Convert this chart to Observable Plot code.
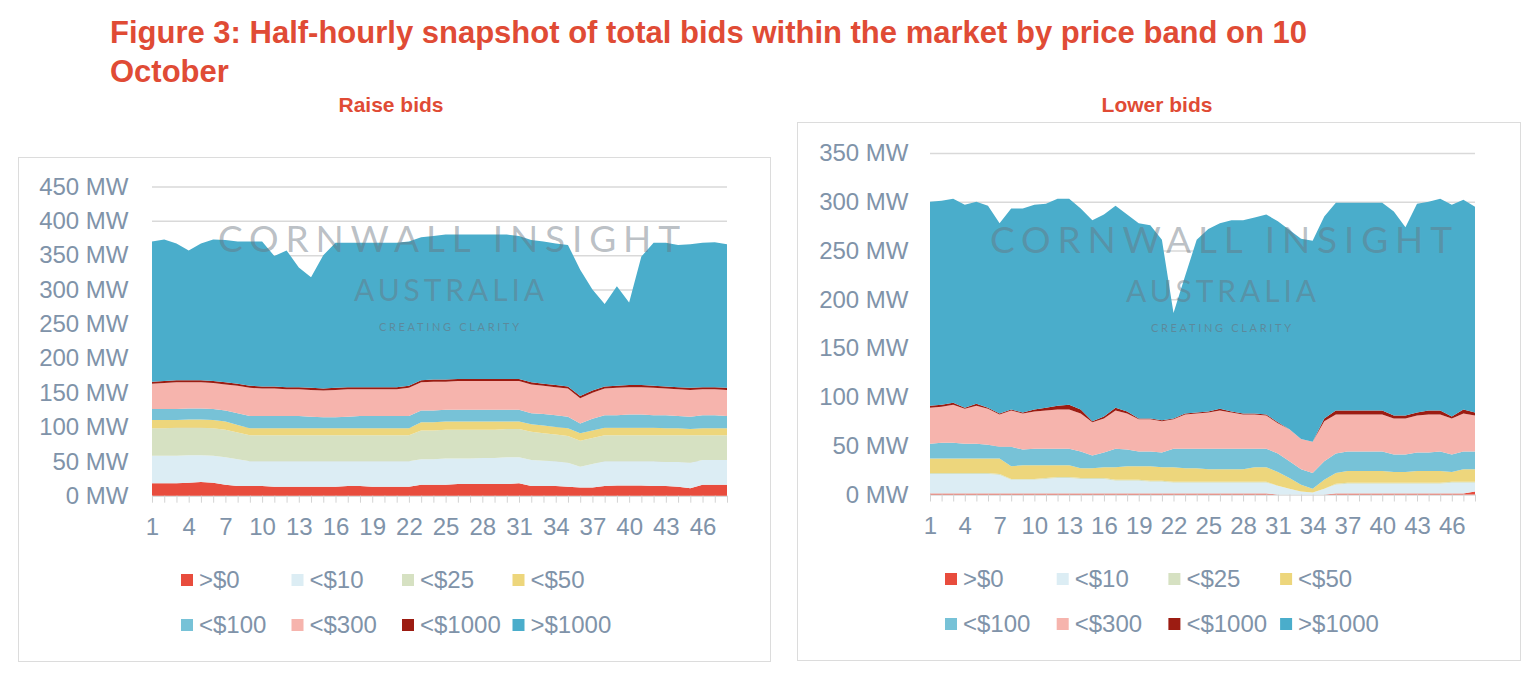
<!DOCTYPE html>
<html><head><meta charset="utf-8">
<script src="https://cdn.jsdelivr.net/npm/d3@7"></script>
<script src="https://cdn.jsdelivr.net/npm/@observablehq/plot@0.6"></script>
<style>
body{margin:0;background:#fff;width:1537px;height:678px;position:relative;overflow:hidden;font-family:"Liberation Sans",Arial,sans-serif;}
.frame{position:absolute;border:1px solid #dcdcdc;box-sizing:border-box;}
.chart{position:absolute;}
#overlay{position:absolute;left:0;top:0;pointer-events:none;}
</style></head><body>
<div class="frame" style="left:18px;top:157px;width:753px;height:505px"></div>
<div class="frame" style="left:797px;top:122px;width:724px;height:539px"></div>
<div id="left" class="chart" style="left:18px;top:157px"></div>
<div id="right" class="chart" style="left:797px;top:122px"></div>
<svg id="overlay" width="1537" height="678"></svg>
<script>
// ---------- DATA ----------
const bands = [">$0", "<$10", "<$25", "<$50", "<$100", "<$300", "<$1000", ">$1000"];
const bandColors = ["#e84c3d", "#dcedf4", "#d6e1c2", "#edd67c", "#77c2d7", "#f6b4ad", "#9c1c12", "#4aadcb"];
const periods = d3.range(1, 49);
const xTickLabels = [1, 4, 7, 10, 13, 16, 19, 22, 25, 28, 31, 34, 37, 40, 43, 46];
const raiseYTicks = [0, 50, 100, 150, 200, 250, 300, 350, 400, 450];
const lowerYTicks = [0, 50, 100, 150, 200, 250, 300, 350];

// Raise bids (MW per band, periods 1..48)
const raiseGt0 = [18,18,18,19,20,19,16, 14,14,14,13,13,13,13,13,13,14,14,13,13,13,13, 16,16,16,17,17,17,17,17,18, 14,14,14,13,12,12, 14,15,15,15,14,14,13,11, 16,16,16];
const raiseLt10 = [40,40,40,40,39,39,40, 39,36,36,37,37,37,37,37,37,36,36,37,37,37,37, 37,37,38,37,37,38,38,39,38, 38,37,36,35,30,34, 36,35,35,35,36,35,36,37, 36,36,36];
const raiseLt25 = [40,40,41,40,40,40,40, 39,38,38,38,38,38,38,38,38,38,38,38,38,38,38, 42,42,42,42,42,41,41,41,41, 41,40,39,39,38,38, 38,38,38,38,38,39,39,40, 36,36,36];
const raiseLt50 = [12,12,11,12,12,12,12, 11,10,10,10,10,10,10,10,10,10,10,10,10,10,10, 12,12,12,12,12,12,12,11,11, 11,11,11,11,11,11, 11,11,11,11,11,10,10,9, 10,10,10];
const raiseLt100 = [16,16,16,16,16,16,16, 17,18,18,18,18,18,17,16,16,17,18,18,18,18,18, 17,17,17,17,17,17,17,17,17, 16,17,17,17,14,17, 18,18,19,19,18,19,18,18, 19,19,18];
const raiseLt300 = [37,38,39,38,38,38,38, 40,41,40,40,39,39,39,39,40,40,39,39,39,39,41, 41,42,41,42,42,42,42,42,42, 42,41,41,41,37,38, 39,40,40,40,40,39,39,39, 38,38,38];
const raiseLt1000 = [3,3,3,3,3,3,3, 3,3,3,3,3,3,3,3,3,3,3,3,3,3,3, 3,3,3,3,3,3,3,3,3, 3,3,3,3,3,3, 3,3,3,3,3,3,3,3, 3,3,3];
const raiseGt1000 = [204,206,199,189,199,206,207, 207,210,211,190,199,174,161,194,211,210,210,210,210,210,210, 208,209,211,210,210,210,210,210,208, 207,207,206,206,184,147, 120,145,120,187,208,209,207,209, 210,211,209];

// Lower bids (MW per band, periods 1..48)
const lowerGt0 = [1,1,1,1,1,1,1,1,1,1,1,1,1,1,1,1,1,1,1,1,1,1,1,1,1,1,1,1,1,1, 0,0,0,0,0, 1,1,1,1,1,1,1,1,1,1,1,1, 3];
const lowerLt10 = [20,20,20,20,20,20,19, 14,14,14,15, 16,16, 15,15,15, 13,13,13,12,12, 11,11,11,11,11,11,11,11,11, 9,6,3,2,6, 9, 10,10,10,10,10,10,10,10,10, 11,11,9];
const lowerLt25 = [1,1,1,1,1,1,1,1,1,1,1,1,1,1,1,1,1,1,1,1,1,1,1,1,1,1,1,1,1,1, 0,0,0,0,0, 1,1,1,1,1,1,1,1,1,1,1,1,1];
const lowerLt50 = [15,15,15,15,15,15,16, 13,14,14,13,12,12,10,10,11,13,14,14,15,14,15, 14,14,13,13,13,13,15,15, 14,11,7,4,9, 11, 12,12,12,12,11,11,12,12,12, 10,13,13];
const lowerLt100 = [15,16,16,15,15,14,12, 20,16,17,17,17,17,17,13,15,19,17,15,15,15,19, 20,20,21,21,21,21,19,19, 19,17,16,16,19, 20, 20,20,20,20,18,18,19,19,20, 18,18,18];
const lowerLt300 = [37,37,39,36,39,37,33, 37,37,38,39,40,40,39,34,35,39,37,33,33,32,30, 35,36,37,39,37,35,35,34, 31,33,31,32,41, 40, 38,38,38,38,37,37,38,39,38, 37,39,37];
const lowerLt1000 = [2,2,2,1,2,1,1, 1,1,2,3,4,5,4,1,2,3,2,1,1,1,1, 1,1,1,2,1,1,1,1, 1,0,0,0,3, 4, 4,4,4,4,3,3,3,4,4, 2,4,3];
const lowerGt1000 = [209,209,209,208,207,207,195, 206,209,210,209,212,211,206,206,207,207,202,200,198,185,108, 141,177,187,190,196,198,201,205, 206,204,205,206,207, 213, 213,213,213,213,209,193,214,214,217, 217,215,211];

const raiseSeries = [raiseGt0, raiseLt10, raiseLt25, raiseLt50, raiseLt100, raiseLt300, raiseLt1000, raiseGt1000];
const lowerSeries = [lowerGt0, lowerLt10, lowerLt25, lowerLt50, lowerLt100, lowerLt300, lowerLt1000, lowerGt1000];

// ---------- BUILD ----------
function toLong(series) {
  const out = [];
  series.forEach((vals, i) => vals.forEach((v, j) => out.push({period: periods[j], band: bands[i], value: v})));
  return out;
}
const axisColor = "#8093a9";
function chart(series, yTicks, opts) {
  return Plot.plot({
    width: opts.width, height: opts.height,
    marginLeft: opts.ml, marginRight: opts.mr, marginTop: opts.mt, marginBottom: opts.mb,
    x: {type: "linear", domain: [1, 48], label: null},
    y: {domain: [0, d3.max(yTicks)], label: null},
    color: {domain: bands, range: bandColors},
    style: {fontFamily: "'Liberation Sans', Arial, sans-serif", fontSize: "24px", color: axisColor, background: "transparent", overflow: "visible"},
    marks: [
      Plot.gridY(yTicks, {stroke: "#d9d9d9", strokeOpacity: 1, strokeWidth: 1.5}),
      Plot.areaY(toLong(series), {x: "period", y: "value", fill: "band", order: bands, curve: "linear"}),
      Plot.axisY(yTicks, {label: null, tickSize: 0, tickPadding: opts.yPad, tickFormat: d => `${d} MW`, fill: axisColor, fontSize: 24}),
      Plot.axisX(periods, {label: null, tickSize: 7, stroke: "#d3d3d3", tickFormat: () => "", strokeWidth: 1}),
      Plot.axisX(xTickLabels, {label: null, tickSize: 0, tickPadding: 22, tickFormat: d => String(d), fill: axisColor, fontSize: 24})
    ]
  });
}
document.getElementById("left").append(chart(raiseSeries, raiseYTicks, {width: 752, height: 384, ml: 134, mr: 43, mt: 29.5, mb: 45.3, yPad: 24}));
document.getElementById("right").append(chart(lowerSeries, lowerYTicks, {width: 723, height: 418, ml: 133, mr: 45, mt: 31, mb: 45.5, yPad: 22}));

// ---------- OVERLAY TEXT ----------
const ov = d3.select("#overlay");
const red = "#e04b35";
ov.append("text").attr("x", 110).attr("y", 43).attr("fill", red).attr("font-family", "'Liberation Sans', Arial").attr("font-weight", "bold").attr("font-size", 31)
  .text("Figure 3: Half-hourly snapshot of total bids within the market by price band on 10");
ov.append("text").attr("x", 110).attr("y", 82).attr("fill", red).attr("font-family", "'Liberation Sans', Arial").attr("font-weight", "bold").attr("font-size", 31)
  .text("October");
[["Raise bids", 391], ["Lower bids", 1157]].forEach(([t, x]) => {
  ov.append("text").attr("x", x).attr("y", 112).attr("text-anchor", "middle").attr("fill", red)
    .attr("font-family", "'Liberation Sans', Arial").attr("font-weight", "bold").attr("font-size", 21).text(t);
});

// watermarks
function watermark(cx, y0) {
  const g = ov.append("g").attr("fill", "#68737d").attr("fill-opacity", 0.45).attr("font-family", "Lato, 'Open Sans', sans-serif");
  g.append("text").attr("x", cx - 231).attr("y", y0).attr("font-size", 37).attr("textLength", 462).attr("lengthAdjust", "spacing").text("CORNWALL INSIGHT");
  g.append("text").attr("x", cx - 95).attr("y", y0 + 49).attr("font-size", 30).attr("textLength", 190).attr("lengthAdjust", "spacing").text("AUSTRALIA");
  g.append("text").attr("x", cx - 70).attr("y", y0 + 79).attr("font-size", 11).attr("textLength", 140).attr("lengthAdjust", "spacing").attr("fill-opacity", 0.6).text("CREATING CLARITY");
}
watermark(449, 252);
watermark(1221, 253);

// legends
function legend(x0, y0, dx) {
  bands.forEach((b, i) => {
    const x = x0 + (i % 4) * dx, y = y0 + Math.floor(i / 4) * 45;
    ov.append("rect").attr("x", x).attr("y", y - 6).attr("width", 12).attr("height", 12).attr("fill", bandColors[i]);
    ov.append("text").attr("x", x + 18).attr("y", y).attr("dy", "0.35em").attr("fill", axisColor)
      .attr("font-family", "'Liberation Sans', Arial").attr("font-size", 24).text(b);
  });
}
legend(181, 580, 110.5);
legend(945, 579, 111.7);
</script></body></html>
